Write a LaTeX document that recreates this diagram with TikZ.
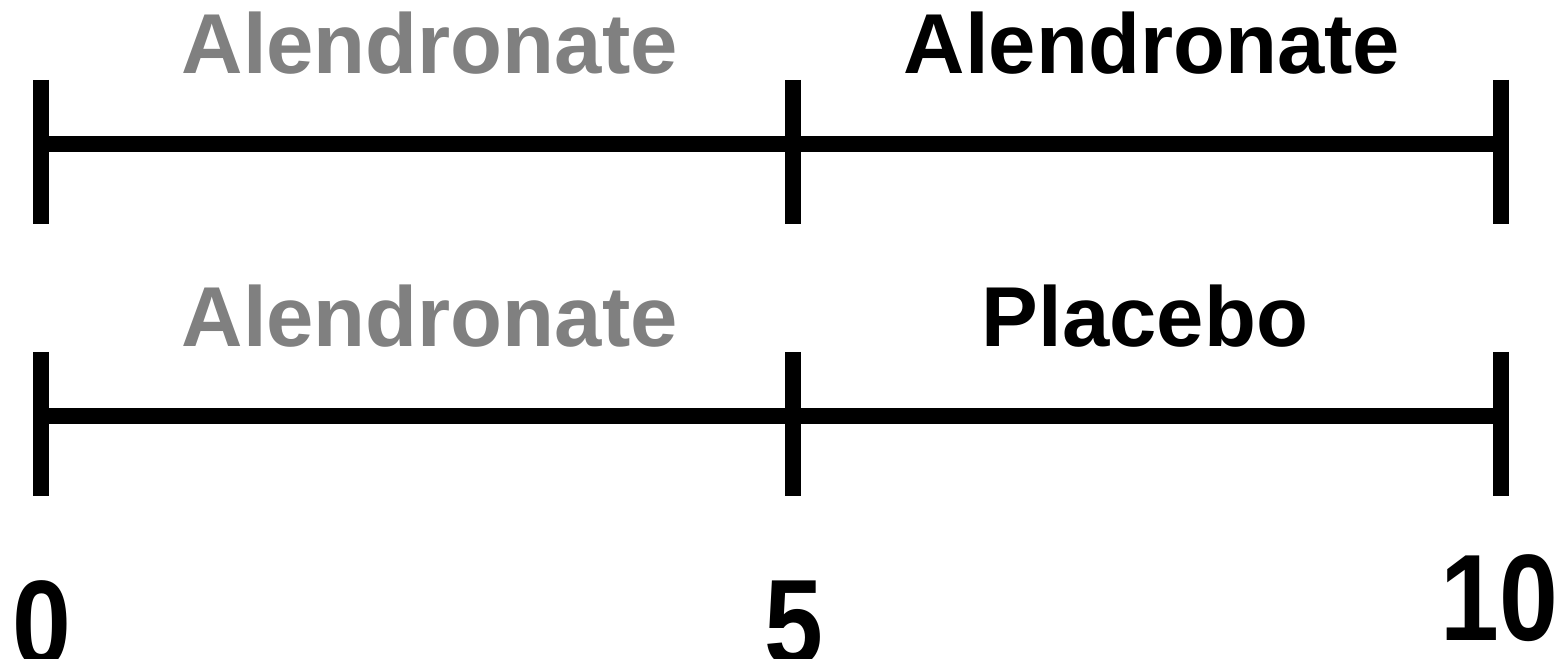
\documentclass[tikz,border=0pt]{standalone}
\usepackage{fontspec}
\setmainfont{Liberation Sans}
\definecolor{midgray}{RGB}{128,128,128}
\begin{document}
\begin{tikzpicture}[
  bar/.style={line width=4.55pt, black},
  armlabel/.style={anchor=base, inner sep=0pt, font=\fontsize{24.2}{29}\selectfont\bfseries},
  yearlabel/.style={anchor=base, inner sep=0pt, xscale=0.86, transform shape,
                    font=\fontsize{35}{42}\selectfont\bfseries}
]
\useasboundingbox (0,0) rectangle (15.65,6.58);

% tick positions along the time axis
\coordinate (a0) at (0.41,5.14);
\coordinate (a5) at (7.927,5.14);
\coordinate (a10) at (15.005,5.14);
\coordinate (b0) at (0.41,2.42);
\coordinate (b5) at (7.927,2.42);
\coordinate (b10) at (15.005,2.42);

% upper arm: Alendronate throughout
\draw[bar] (a0) -- (a10);
\foreach \t in {a0,a5,a10} \draw[bar] ([yshift=0.64cm]\t) -- ([yshift=-0.80cm]\t);
\node[armlabel, text=midgray] (ua1) at (4.297,5.84) {Alendronate};
\node[armlabel, text=black] (ua2) at (11.52,5.84) {Alendronate};

% lower arm: Alendronate then Placebo
\draw[bar] (b0) -- (b10);
\foreach \t in {b0,b5,b10} \draw[bar] ([yshift=0.64cm]\t) -- ([yshift=-0.80cm]\t);
\node[armlabel, text=midgray] (la1) at (4.297,3.113) {Alendronate};
\node[armlabel, text=black] (la2) at (11.45,3.113) {Placebo};

% years
\node[yearlabel] (y0) at (0.415,-0.08) {0};
\node[yearlabel] (y5) at (7.935,-0.07) {5};
\node[yearlabel] (y10) at (14.995,0.18) {10};
\end{tikzpicture}
\end{document}
